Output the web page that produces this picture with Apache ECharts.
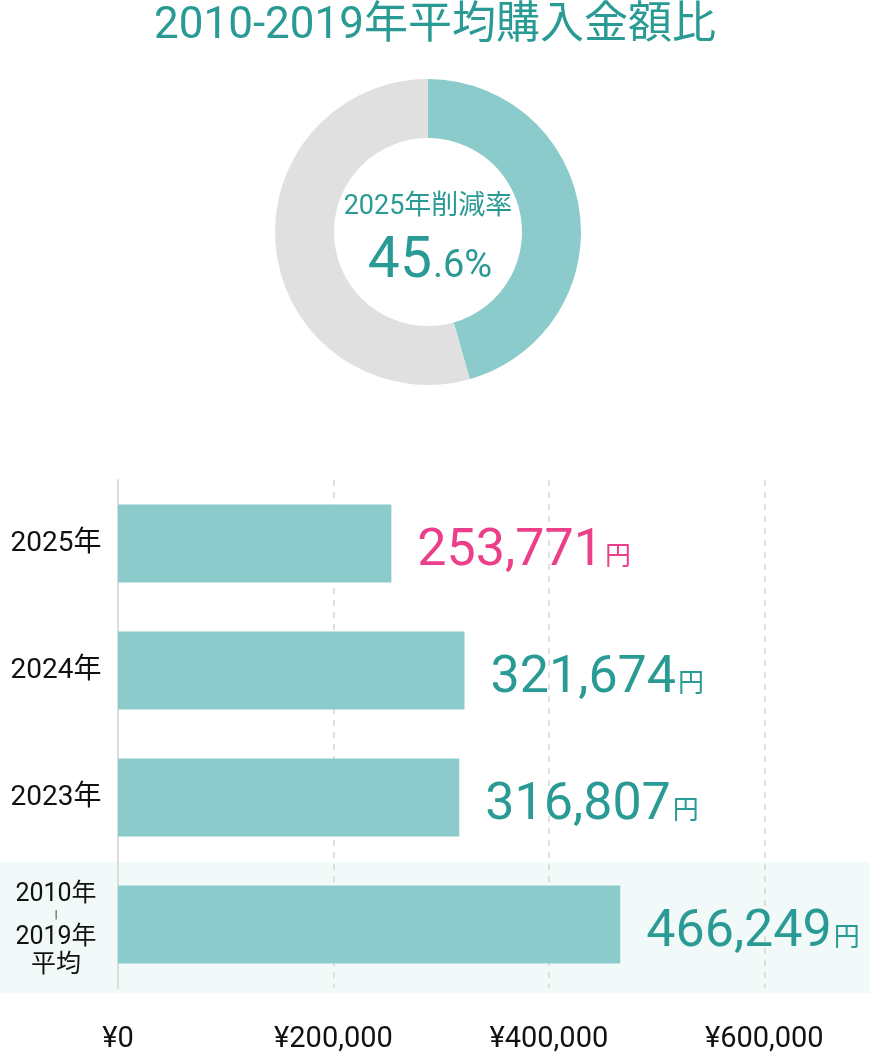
<!DOCTYPE html>
<html>
<head>
<meta charset="utf-8">
<script src="https://cdn.jsdelivr.net/npm/echarts@6/dist/echarts.min.js"></script>
<style>
    html, body { margin: 0; padding: 0; background: #ffffff; }
    #chart { width: 870px; height: 1054px; }
</style>
</head>
<body>
<div id="chart"></div>
<script>
// 2010-2019 average vs recent purchase amounts

const titleText = '2010-2019年平均購入金額比';
const reductionLabel = '2025年削減率';
const reductionRate = 45.6;

const years = ['2025年', '2024年', '2023年', '2010年-2019年平均'];
const amounts = [253771, 321674, 316807, 466249];
const axisTicks = [0, 200000, 400000, 600000];

const FONT = 'Roboto, "Noto Sans CJK JP", sans-serif';
const TEAL = '#2a9a94';
const BAR = '#8ccbcc';
const PINK = '#ec3f8a';

document.addEventListener('DOMContentLoaded', function() {
    const myChart = echarts.init(document.getElementById('chart'));
    const rateParts = String(reductionRate).split('.');

    const option = {
        backgroundColor: '#ffffff',
        animation: false,
        title: {
            text: titleText,
            left: 'center',
            top: 0,
            textStyle: {
                color: TEAL,
                fontFamily: FONT,
                fontSize: 44,
                fontWeight: 'normal'
            }
        },
        graphic: [
            {
                // highlight band behind the long-term average row
                type: 'rect',
                z: -10,
                silent: true,
                shape: { x: 0, y: 862, width: 870, height: 131 },
                style: { fill: '#f1faf8' }
            },
            {
                type: 'text',
                x: 428,
                y: 207,
                style: {
                    text: reductionLabel,
                    fill: TEAL,
                    font: '27px ' + FONT,
                    align: 'center',
                    verticalAlign: 'middle'
                }
            },
            {
                type: 'text',
                x: 430,
                y: 261,
                style: {
                    text: '{big|' + rateParts[0] + '}{small|.' + rateParts[1] + '%}',
                    fill: TEAL,
                    align: 'center',
                    verticalAlign: 'middle',
                    rich: {
                        big: { fontSize: 57, fontFamily: FONT, color: TEAL, verticalAlign: 'bottom', lineHeight: 60 },
                        small: { fontSize: 38, fontFamily: FONT, color: TEAL, verticalAlign: 'bottom', lineHeight: 60, padding: [0, 0, 4, 1] }
                    }
                }
            }
        ],
        grid: {
            left: 118,
            width: 754,
            top: 480,
            height: 508,
            outerBoundsMode: 'none'
        },
        xAxis: {
            type: 'value',
            min: 0,
            max: 700000,
            interval: 200000,
            axisLine: { show: false },
            axisTick: { show: false },
            axisLabel: {
                margin: 37,
                color: '#111111',
                fontFamily: FONT,
                fontSize: 29,
                formatter: function(v) {
                    if (axisTicks.indexOf(v) < 0) return '';
                    return '¥' + v.toLocaleString('en-US');
                }
            },
            splitLine: {
                lineStyle: { color: '#d6d6d6', type: [6, 6], width: 1.5 }
            }
        },
        yAxis: {
            type: 'category',
            inverse: true,
            data: years,
            axisLine: { lineStyle: { color: '#dddddd', width: 2 } },
            axisTick: { show: false },
            axisLabel: {
                margin: 62,
                align: 'center',
                color: '#111111',
                fontFamily: FONT,
                fontSize: 28,
                formatter: function(v) {
                    if (v.indexOf('-') < 0) return v;
                    const parts = v.replace('平均', '').split('-');
                    return '{e| }\n{a1|' + parts[0] + '}\n{s||}\n{a2|' + parts[1] + '}\n{a3|平均}';
                },
                rich: {
                    e: { fontSize: 8, lineHeight: 12 },
                    a1: { fontSize: 25, fontFamily: FONT, color: '#111111', lineHeight: 26, align: 'center' },
                    s: { fontSize: 11, fontFamily: FONT, color: '#111111', lineHeight: 16, align: 'center' },
                    a2: { fontSize: 25, fontFamily: FONT, color: '#111111', lineHeight: 28, align: 'center' },
                    a3: { fontSize: 25, fontFamily: FONT, color: '#111111', lineHeight: 28, align: 'center' }
                }
            }
        },
        series: [
            {
                type: 'pie',
                center: [428, 232],
                radius: [94, 153],
                startAngle: 90,
                clockwise: true,
                silent: true,
                label: { show: false },
                labelLine: { show: false },
                data: [
                    { value: reductionRate, itemStyle: { color: BAR } },
                    { value: 100 - reductionRate, itemStyle: { color: '#e0e0e0' } }
                ]
            },
            {
                type: 'bar',
                data: amounts,
                barWidth: 78,
                itemStyle: { color: BAR },
                label: {
                    show: true,
                    position: 'right',
                    distance: 26,
                    offset: [0, 4],
                    formatter: function(p) {
                        const key = p.dataIndex === 0 ? 'np' : 'n';
                        const yen = p.dataIndex === 0 ? 'yp' : 'y';
                        return '{' + key + '|' + p.value.toLocaleString('en-US') + '}{' + yen + '|円}';
                    },
                    rich: {
                        n: { fontSize: 52, fontFamily: FONT, color: TEAL, lineHeight: 60, verticalAlign: 'bottom' },
                        np: { fontSize: 52, fontFamily: FONT, color: PINK, lineHeight: 60, verticalAlign: 'bottom' },
                        y: { fontSize: 26, fontFamily: FONT, color: TEAL, lineHeight: 60, verticalAlign: 'bottom', padding: [0, 0, 6, 2] },
                        yp: { fontSize: 26, fontFamily: FONT, color: PINK, lineHeight: 60, verticalAlign: 'bottom', padding: [0, 0, 6, 2] }
                    }
                }
            }
        ]
    };

    myChart.setOption(option);
});
</script>
</body>
</html>
